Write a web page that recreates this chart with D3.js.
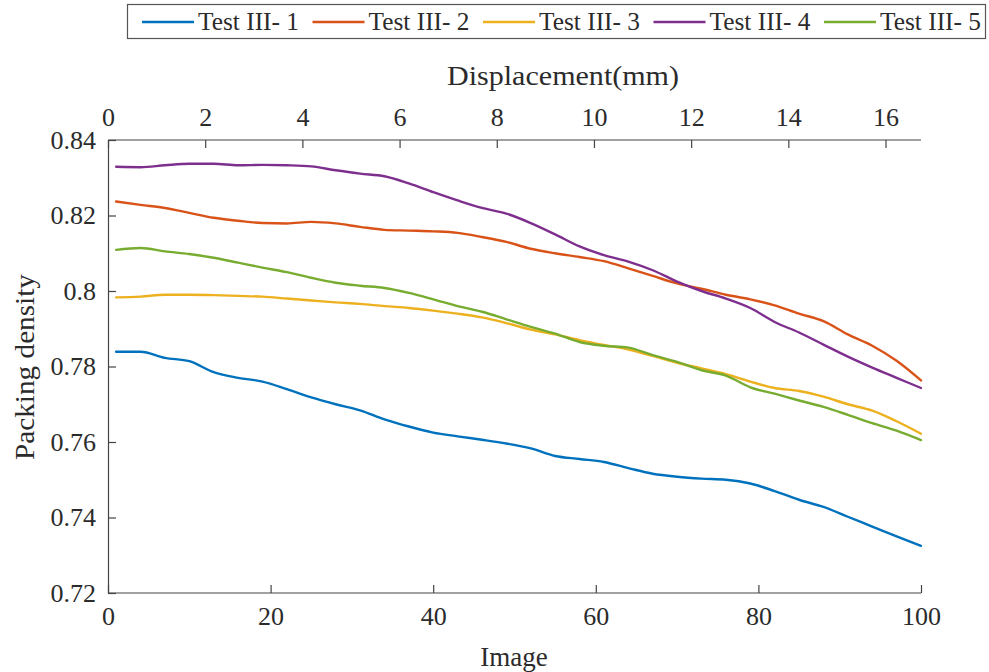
<!DOCTYPE html>
<html>
<head>
<meta charset="utf-8">
<script src="https://cdn.jsdelivr.net/npm/d3@7"></script>
<style>
  html, body { margin: 0; padding: 0; background: #fff; }
  svg text { font-family: "Liberation Serif", "Tinos", "Times New Roman", "DejaVu Serif", serif; fill: #2b2b2b; }
</style>
</head>
<body>
<svg id="chart" width="989" height="672"></svg>
<script>
// Image index at which each packing density was sampled
const images = [1, 4, 7, 10, 13, 16, 19, 22, 25, 28, 31, 34, 37, 40, 43, 46, 49, 52, 55, 58,
                61, 64, 67, 70, 73, 76, 79, 82, 85, 88, 91, 94, 97, 100];

const test1 = [0.7839, 0.7839, 0.7823, 0.7814, 0.7785, 0.7770, 0.7760, 0.7740, 0.7718, 0.7700,
               0.7684, 0.7660, 0.7641, 0.7625, 0.7615, 0.7606, 0.7596, 0.7583, 0.7563, 0.7555,
               0.7547, 0.7531, 0.7516, 0.7508, 0.7503, 0.7500, 0.7490, 0.7470, 0.7447, 0.7428,
               0.7402, 0.7376, 0.7350, 0.7325];
const test2 = [0.8237, 0.8228, 0.8220, 0.8207, 0.8194, 0.8186, 0.8180, 0.8179, 0.8183, 0.8179,
               0.8170, 0.8162, 0.8160, 0.8158, 0.8154, 0.8143, 0.8130, 0.8112, 0.8100, 0.8090,
               0.8079, 0.8060, 0.8040, 0.8020, 0.8006, 0.7990, 0.7978, 0.7962, 0.7940, 0.7920,
               0.7885, 0.7855, 0.7815, 0.7763];
const test3 = [0.7983, 0.7985, 0.7990, 0.7990, 0.7989, 0.7987, 0.7985, 0.7980, 0.7975, 0.7970,
               0.7966, 0.7960, 0.7955, 0.7948, 0.7940, 0.7930, 0.7915, 0.7898, 0.7885, 0.7870,
               0.7857, 0.7845, 0.7828, 0.7810, 0.7795, 0.7780, 0.7760, 0.7743, 0.7735, 0.7720,
               0.7700, 0.7683, 0.7655, 0.7622];
const test4 = [0.8329, 0.8328, 0.8333, 0.8337, 0.8337, 0.8333, 0.8334, 0.8333, 0.8330, 0.8320,
               0.8311, 0.8304, 0.8285, 0.8262, 0.8240, 0.8220, 0.8205, 0.8180, 0.8150, 0.8118,
               0.8095, 0.8078, 0.8055, 0.8025, 0.8000, 0.7980, 0.7955, 0.7918, 0.7890, 0.7858,
               0.7826, 0.7797, 0.7770, 0.7743];
const test5 = [0.8109, 0.8114, 0.8105, 0.8098, 0.8088, 0.8075, 0.8062, 0.8050, 0.8035, 0.8022,
               0.8014, 0.8008, 0.7995, 0.7978, 0.7960, 0.7945, 0.7925, 0.7905, 0.7887, 0.7865,
               0.7855, 0.7850, 0.7830, 0.7812, 0.7790, 0.7776, 0.7745, 0.7728, 0.7710, 0.7693,
               0.7672, 0.7650, 0.7630, 0.7605];

const seriesNames = ["Test III- 1", "Test III- 2", "Test III- 3", "Test III- 4", "Test III- 5"];
const seriesValues = [test1, test2, test3, test4, test5];
const seriesColors = ["#0072BD", "#D95319", "#EDB120", "#7E2F8E", "#77AC30"];

const imageTicks = [0, 20, 40, 60, 80, 100];
const densityTicks = [0.72, 0.74, 0.76, 0.78, 0.80, 0.82, 0.84];
const displacementTicks = [0, 2, 4, 6, 8, 10, 12, 14, 16];
const displacementMax = 16.73;   // displacement reached at image 100

const serif = '"Liberation Serif", "Tinos", "Times New Roman", "DejaVu Serif", serif';

const svg = d3.select("#chart");
const plotLeft = 108, plotRight = 921, plotTop = 140, plotBottom = 593;
const axisColor = "#444";

const x = d3.scaleLinear().domain([0, 100]).range([plotLeft, plotRight]);
const xTop = d3.scaleLinear().domain([0, displacementMax]).range([plotLeft, plotRight]);
const y = d3.scaleLinear().domain([0.72, 0.84]).range([plotBottom, plotTop]);

// Bottom axis: image number, ticks pointing inward
const gx = svg.append("g").attr("transform", `translate(0,${plotBottom})`)
  .call(d3.axisBottom(x).tickValues(imageTicks).tickSizeInner(-8).tickSizeOuter(0).tickPadding(14)
        .tickFormat(d3.format("d")));
// Top axis: displacement
const gt = svg.append("g").attr("transform", `translate(0,${plotTop})`)
  .call(d3.axisTop(xTop).tickValues(displacementTicks).tickSizeInner(-8).tickSizeOuter(0).tickPadding(14)
        .tickFormat(d3.format("d")));
// Left axis: packing density
const gy = svg.append("g").attr("transform", `translate(${plotLeft},0)`)
  .call(d3.axisLeft(y).tickValues(densityTicks).tickSizeInner(-8).tickSizeOuter(0).tickPadding(12)
        .tickFormat(d => d3.format(".2f")(d).replace(/0$/, "")));

[gx, gt, gy].forEach(g => {
  g.attr("font-family", serif);
  g.select(".domain").attr("stroke", axisColor).attr("stroke-width", 1.2);
  g.selectAll(".tick line").attr("stroke", axisColor).attr("stroke-width", 1.2);
  g.selectAll(".tick text").attr("fill", "#333").style("font-size", "26px")
    .style("font-family", serif);
});
// full-length top and bottom lines
gt.select(".domain").attr("d", `M${plotLeft},0H${plotRight}`);
gx.select(".domain").attr("d", `M${plotLeft},0H${plotRight}`);

// Axis titles
const title = (sel) => sel.style("font-family", serif).style("font-size", "27px")
  .attr("fill", "#333").attr("text-anchor", "middle");
svg.append("text").attr("x", 563).attr("y", 85).call(title)
  .attr("textLength", 232).attr("lengthAdjust", "spacingAndGlyphs").text("Displacement(mm)");
svg.append("text").attr("x", 514).attr("y", 666).call(title).text("Image");
svg.append("text").attr("transform", "translate(34,367) rotate(-90)").call(title)
  .attr("textLength", 186).attr("lengthAdjust", "spacingAndGlyphs").text("Packing density");

// Density curves
const line = d3.line().x((d, i) => x(images[i])).y(d => y(d)).curve(d3.curveMonotoneX);
const plot = svg.append("g");
seriesValues.forEach((vals, k) => {
  plot.append("path").datum(vals)
    .attr("fill", "none").attr("stroke", seriesColors[k]).attr("stroke-width", 2.4)
    .attr("stroke-linejoin", "round").attr("stroke-linecap", "round")
    .attr("d", line);
});

// Legend
const legend = svg.append("g");
legend.append("rect").attr("x", 127.5).attr("y", 4.5).attr("width", 858).attr("height", 34)
  .attr("fill", "#fff").attr("stroke", "#555").attr("stroke-width", 1.2);
seriesNames.forEach((name, k) => {
  const x0 = 142 + k * 170.5;
  legend.append("line").attr("x1", x0).attr("x2", x0 + 52).attr("y1", 22).attr("y2", 22)
    .attr("stroke", seriesColors[k]).attr("stroke-width", 2.6);
  legend.append("text").attr("x", x0 + 56).attr("y", 30)
    .attr("textLength", 101).attr("lengthAdjust", "spacingAndGlyphs")
    .attr("fill", "#333")
    .style("font-family", serif).style("font-size", "25px").text(name);
});
</script>
</body>
</html>
